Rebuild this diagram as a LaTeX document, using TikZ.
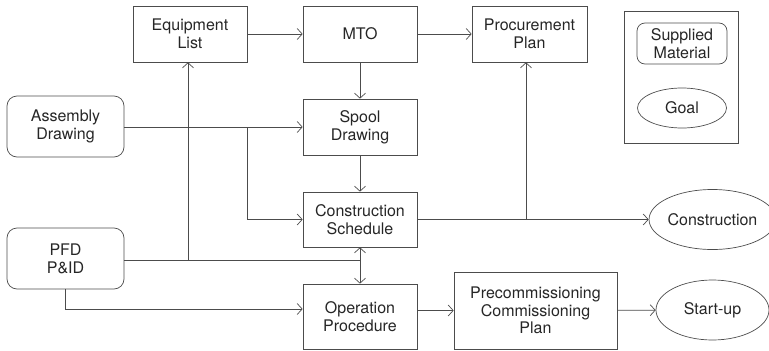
\documentclass[tikz,border=0pt]{standalone}
\usepackage{fontspec}
\setmainfont{TeX Gyre Heros}
\usetikzlibrary{arrows.meta,shapes.geometric}
\begin{document}
\begin{tikzpicture}[x=1pt,y=-1pt,
  every node/.style={font=\fontsize{16}{17.7}\selectfont, align=center, inner sep=0pt, text=black!85},
  box/.style={draw=black!70, line width=0.7pt, rectangle, minimum width=114pt, minimum height=56pt},
  rbox/.style={draw=black!70, line width=0.7pt, rectangle, rounded corners=10pt, minimum width=117pt, minimum height=61pt},
  goal/.style={draw=black!70, line width=0.7pt, ellipse, minimum width=113pt, minimum height=60pt},
  conn/.style={draw=black!70, line width=0.7pt},
  arr/.style={conn, -{Straight Barb[length=5pt,width=11pt,line width=0.7pt]}}
]
\useasboundingbox (0,0) rectangle (769,351);
% nodes
\node[box] (el) at (190,34) {Equipment\\List};
\node[box] (mto) at (360,34) {MTO};
\node[box, minimum width=115pt] (proc) at (529.5,34) {Procurement\\Plan};
\node[draw=black!70, line width=0.7pt, minimum width=114pt, minimum height=132pt] (legend) at (681,77) {};
\node[draw=black!70, line width=0.7pt, rounded corners=8pt, minimum width=90pt, minimum height=41pt] (sup) at (682,43.5) {Supplied\\Material};
\node[draw=black!70, line width=0.7pt, ellipse, minimum width=89pt, minimum height=40pt] (goalL) at (682,108) {Goal};
\node[rbox] (asm) at (65.5,126.5) {Assembly\\Drawing};
\node[box] (spool) at (360,127) {Spool\\Drawing};
\node[box, minimum height=55pt] (cs) at (360,219.5) {Construction\\Schedule};
\node[rbox] (pfd) at (65.5,258.5) {PFD\\P\&ID};
\node[box, minimum height=65pt] (op) at (360,316.5) {Operation\\Procedure};
\node[box, minimum width=163pt, minimum height=77pt] (pre) at (535.5,310.5) {Precommissioning\\Commissioning\\Plan};
\node[goal] (cons) at (712.5,219.5) {Construction};
\node[goal] (start) at (712.5,310) {Start-up};
% coordinates
\coordinate (asmj) at (247,127);
\coordinate (pfdj) at (360,260);
\coordinate (elj) at (188,260);
\coordinate (procj) at (526,219.5);
% connectors
\draw[arr] (el) -- (mto);
\draw[arr] (mto) -- (proc);
\draw[arr] (asm.east |- spool.west) -- (spool.west);
\draw[arr] (mto) -- (spool);
\draw[arr] (spool) -- (cs);
\draw[arr] (asmj) |- (cs.west);
\draw[conn] (pfd.east |- pfdj) -- (pfdj);
\draw[arr] (pfdj) -- (cs.south);
\draw[arr] (pfdj) -- (op.north);
\draw[arr] (elj) -- (el.south -| elj);
\draw[arr] (pfd.south) |- (op.west |- 0,309);
\draw[arr] (pre.west -| op.east) -- (pre.west);
\draw[arr] (pre) -- (start);
\draw[arr] (cs) -- (cons);
\draw[arr] (procj) -- (proc.south -| procj);
\end{tikzpicture}
\end{document}
